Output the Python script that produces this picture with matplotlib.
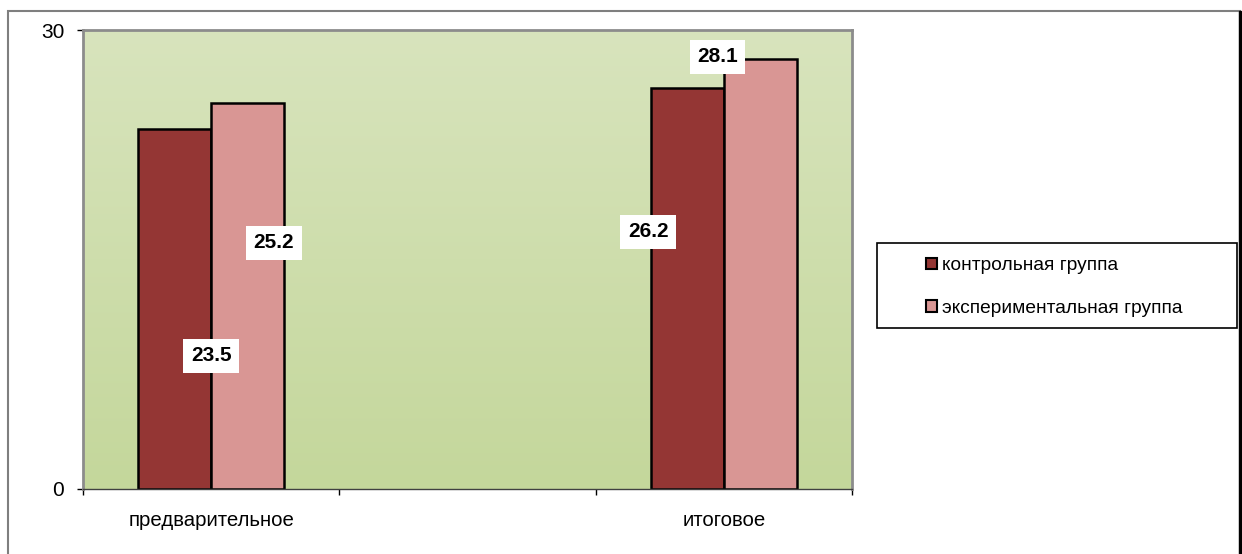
import numpy as np
import matplotlib.pyplot as plt
from matplotlib.patches import Rectangle, Patch

plt.rcParams["font.family"] = ["Liberation Sans", "DejaVu Sans"]

categories = ["предварительное", "итоговое"]
series_names = ["контрольная группа", "экспериментальная группа"]
control = [23.5, 26.2]
experimental = [25.2, 28.1]

dark_red = "#943634"
pink = "#d99694"

# label anchor points (data coords), same order as the bars
label_xy_control = [(0.0, 8.7), (1.705, 16.8)]
label_xy_exp = [(0.245, 16.1), (1.975, 28.25)]

fig = plt.figure(figsize=(12.42, 5.54), dpi=100)
ax = fig.add_axes([83 / 1242, 65 / 554, 769 / 1242, 459 / 554])

# outer frame of the chart
fig.patches.append(Rectangle((8 / 1242, -0.05), 1232 / 1242, (543 + 28) / 554,
                             transform=fig.transFigure, fill=False,
                             edgecolor="#7f7f7f", linewidth=1.5))
fig.patches.append(Rectangle((1239 / 1242, -0.05), 2 / 1242, (543 + 28) / 554,
                             transform=fig.transFigure, color="black"))

# gradient plot background
grad = np.linspace(0, 1, 256).reshape(-1, 1)
top = np.array([216, 228, 189]) / 255
bottom = np.array([196, 215, 155]) / 255
img = top + (bottom - top) * grad[..., None]
ax.imshow(img.reshape(256, 1, 3), extent=(-0.5, 2.5, 0, 30), aspect="auto",
          zorder=0, origin="upper")

pos = np.array([0, 2])
w = 0.285
ax.bar(pos - w / 2, control, w, color=dark_red, edgecolor="black", linewidth=1.8, zorder=2)
ax.bar(pos + w / 2, experimental, w, color=pink, edgecolor="black", linewidth=1.8, zorder=2)

box = dict(boxstyle="square,pad=0.36", facecolor="white", edgecolor="none")
for (x, y), v in zip(label_xy_control, control):
    ax.text(x, y, f"{v:.1f}", ha="center", va="center", fontsize=15,
            fontweight="bold", bbox=box, zorder=4)
for (x, y), v in zip(label_xy_exp, experimental):
    ax.text(x, y, f"{v:.1f}", ha="center", va="center", fontsize=15,
            fontweight="bold", bbox=box, zorder=4)

ax.set_xlim(-0.5, 2.5)
ax.set_ylim(0, 30)
ax.set_yticks([0, 30])
ax.set_yticklabels(["0", "30"], fontsize=15)
ax.set_xticks(pos)
ax.set_xticklabels(categories, fontsize=14.7)
ax.set_xticks([-0.5, 0.5, 1.5, 2.5], minor=True)
ax.tick_params(axis="x", which="major", length=0, pad=16)
ax.tick_params(axis="x", which="minor", length=4.5, width=1, color="black")
ax.tick_params(axis="y", length=4.5, width=1, color="black", pad=9)

for side in ["top", "right", "left"]:
    ax.spines[side].set_color("#8c8c8c")
    ax.spines[side].set_linewidth(2)
ax.spines["bottom"].set_color("#404040")
ax.spines["bottom"].set_linewidth(1)

# legend
fig.patches.append(Rectangle((877 / 1242, (554 - 328) / 554), 360 / 1242, 85 / 554,
                             transform=fig.transFigure, fill=False,
                             edgecolor="black", linewidth=1.2))
handles = [Patch(facecolor=dark_red, edgecolor="black", linewidth=1.5),
           Patch(facecolor=pink, edgecolor="black", linewidth=1.5)]
fig.legend(handles, series_names, loc="center left",
           bbox_to_anchor=(926 / 1242, (554 - 287) / 554), frameon=False,
           fontsize=13.8, handlelength=0.55, handleheight=0.55,
           handletextpad=0.3, labelspacing=1.35, borderpad=0, borderaxespad=0)

fig.savefig("out.png", dpi=100, facecolor="white")
